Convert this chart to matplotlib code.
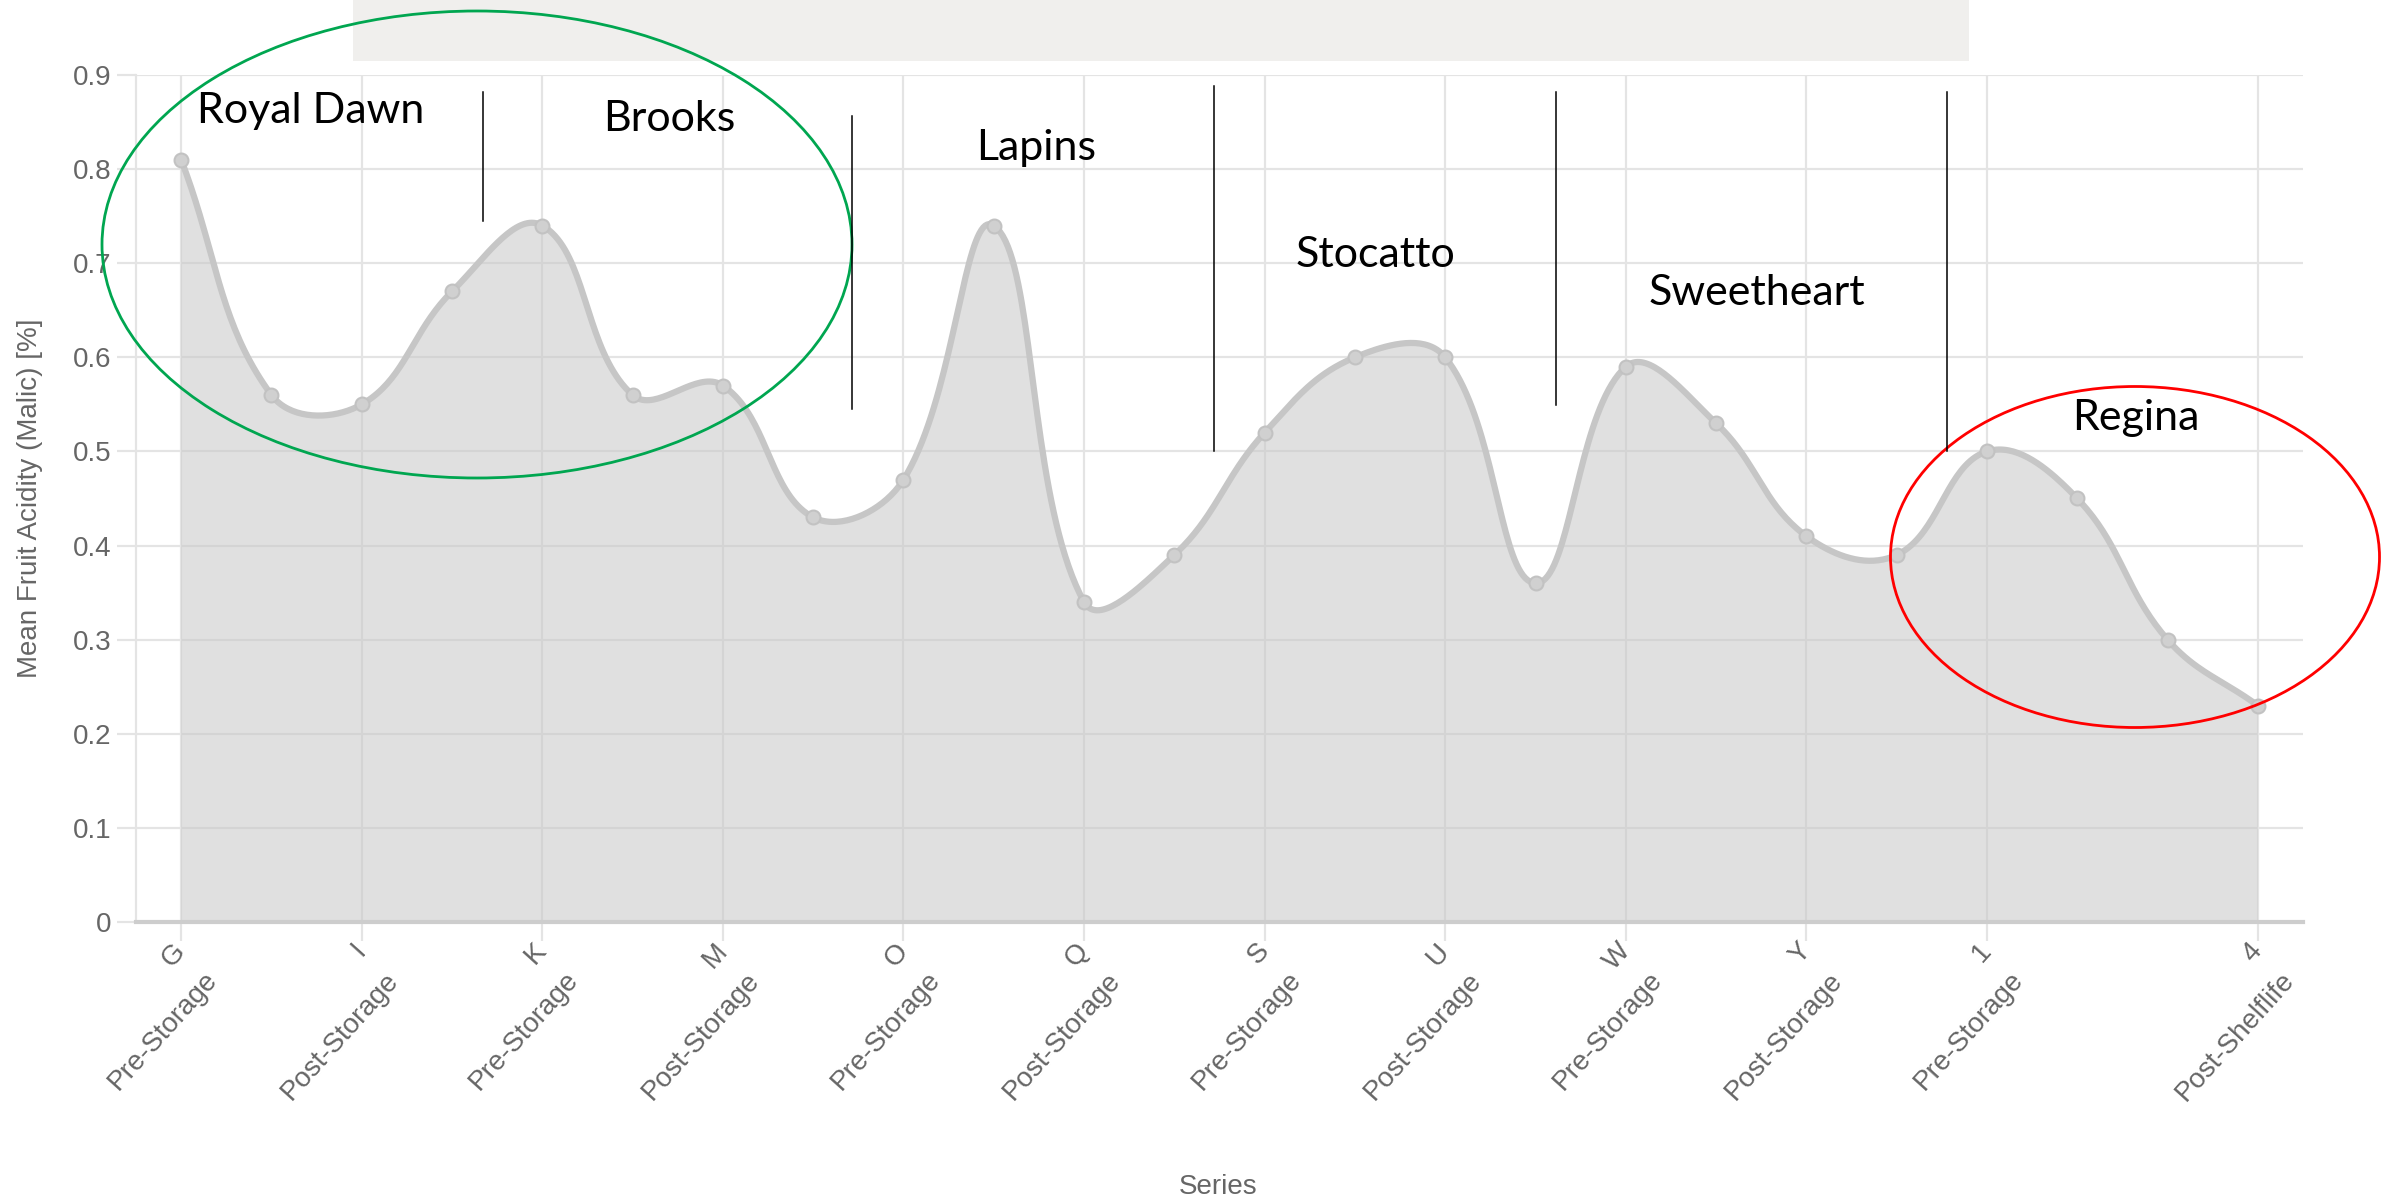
import matplotlib
matplotlib.use("Agg")
import matplotlib.pyplot as plt
import numpy as np
from matplotlib.patches import Ellipse, Rectangle
from matplotlib.lines import Line2D

# sample codes along the x axis and mean malic acid values
samples = ["G", "H", "I", "J", "K", "L", "M", "N", "O", "P", "Q", "R",
           "S", "T", "U", "V", "W", "X", "Y", "Z", "1", "2", "3", "4"]
acidity = [0.81, 0.56, 0.55, 0.67, 0.74, 0.56, 0.57, 0.43, 0.47, 0.74, 0.34, 0.39,
           0.52, 0.60, 0.60, 0.36, 0.59, 0.53, 0.41, 0.39, 0.50, 0.45, 0.30, 0.23]

# labelled ticks (chart skips every other one)
tick_idx = [0, 2, 4, 6, 8, 10, 12, 14, 16, 18, 20, 23]
tick_stage = ["Pre-Storage", "Post-Storage", "Pre-Storage", "Post-Storage",
              "Pre-Storage", "Post-Storage", "Pre-Storage", "Post-Storage",
              "Pre-Storage", "Post-Storage", "Pre-Storage", "Post-Shelflife"]
y_ticks = [0, 0.1, 0.2, 0.3, 0.4, 0.5, 0.6, 0.7, 0.8, 0.9]

cultivars = ["Royal Dawn", "Brooks", "Lapins", "Stocatto", "Sweetheart", "Regina"]

W, H = 2395, 1199
def fx(px):
    return px / W
def fy(py):
    return 1 - py / H

fig = plt.figure(figsize=(W / 100, H / 100), dpi=100)
ax = fig.add_axes([fx(136), fy(922), (2303 - 136) / W, (922 - 75) / H])
ax.set_xlim(-0.5, 23.5)
ax.set_ylim(0, 0.9)

grid_c = "#e4e4e4"
text_c = "#666666"
tick_font = "Liberation Sans"

# chart.js style bezier (tension 0.4) computed in pixel space
x = np.arange(len(samples))
pts = ax.transData.transform(np.column_stack([x, acidity]))
n = len(pts)
cp_prev = pts.copy()
cp_next = pts.copy()
for i in range(n):
    p0 = pts[max(i - 1, 0)]
    p1 = pts[i]
    p2 = pts[min(i + 1, n - 1)]
    d01 = np.hypot(*(p1 - p0))
    d12 = np.hypot(*(p2 - p1))
    s = d01 + d12
    s01 = d01 / s if s else 0
    s12 = d12 / s if s else 0
    cp_prev[i] = p1 - 0.4 * s01 * (p2 - p0)
    cp_next[i] = p1 + 0.4 * s12 * (p2 - p0)

u = np.linspace(0, 1, 40)[:, None]
segs = []
for i in range(n - 1):
    a, b, c, d = pts[i], cp_next[i], cp_prev[i + 1], pts[i + 1]
    segs.append((1 - u) ** 3 * a + 3 * (1 - u) ** 2 * u * b + 3 * (1 - u) * u ** 2 * c + u ** 3 * d)
curve = ax.transData.inverted().transform(np.vstack(segs))

poly = np.vstack([curve, [[x[-1], 0], [x[0], 0]]])
ax.fill(poly[:, 0], poly[:, 1], color="#c8c8c8", alpha=0.55, lw=0, zorder=2)
ax.plot(curve[:, 0], curve[:, 1], color="#c6c6c6", lw=4.5, zorder=3, solid_capstyle="round")
ax.plot(x, acidity, "o", ms=10, mfc="#d0d0d0", mec="#c2c2c2", mew=1.5, zorder=4)

# axes styling
ax.set_yticks(y_ticks)
ax.set_yticklabels(["0" if v == 0 else f"{v:.1f}" for v in y_ticks],
                   fontsize=20, color=text_c, family=tick_font)
ax.set_xticks(tick_idx)
ax.set_xticklabels([])
ax.grid(True, color=grid_c, lw=1.6)
ax.set_axisbelow(True)
ax.tick_params(axis="both", length=14, width=1.6, color=grid_c, pad=4)
for side in ["top", "right"]:
    ax.spines[side].set_visible(False)
ax.spines["left"].set_color(grid_c)
ax.spines["left"].set_linewidth(1.6)
ax.spines["bottom"].set_color("#cdcdcd")
ax.spines["bottom"].set_linewidth(3)

# two-line rotated x labels
ang = 48
ls = 31
for i, stage in zip(tick_idx, tick_stage):
    ax.annotate(samples[i], xy=(i, 0), xycoords=("data", "axes fraction"),
                xytext=(0, -18), textcoords="offset points", rotation=ang,
                rotation_mode="anchor", ha="right", va="center",
                fontsize=20, color=text_c, family=tick_font)
    ax.annotate(stage, xy=(i, 0), xycoords=("data", "axes fraction"),
                xytext=(ls * np.sin(np.radians(ang)), -18 - ls * np.cos(np.radians(ang))),
                textcoords="offset points", rotation=ang,
                rotation_mode="anchor", ha="right", va="center",
                fontsize=20, color=text_c, family=tick_font)

ax.set_ylabel("Mean Fruit Acidity (Malic) [%]", fontsize=20, color=text_c,
              family=tick_font, va="center")
ax.yaxis.set_label_coords((30 - 136) / (2303 - 136), 0.5)
ax.set_xlabel("Series", fontsize=20, color=text_c, family=tick_font, va="center")
ax.xaxis.set_label_coords((1218 - 136) / (2303 - 136), (922 - 1187) / (922 - 75))

# overlay annotations
fig.add_artist(Rectangle((fx(353), fy(61)), (1969 - 353) / W, 61 / H,
                         transform=fig.transFigure, color="#f0efed", lw=0, zorder=0))

label_xy = [(311, 111), (669, 119), (1036, 148), (1375, 255), (1757, 293), (2136, 418)]
for name, (px, py) in zip(cultivars, label_xy):
    fig.text(fx(px), fy(py), name, fontsize=31, family="Lato", color="black",
             ha="center", va="center")

divider_lines = [(483, 92, 221), (852, 116, 409), (1214, 86, 451),
                 (1556, 92, 405), (1947, 92, 451)]
for px, y0, y1 in divider_lines:
    fig.add_artist(Line2D([fx(px), fx(px)], [fy(y0), fy(y1)],
                          transform=fig.transFigure, color="black", lw=1.1))

fig.add_artist(Ellipse((fx(477), fy(244.5)), 750 / W, 467 / H, transform=fig.transFigure,
                       fill=False, ec="#00a650", lw=2))
fig.add_artist(Ellipse((fx(2135), fy(557)), 489 / W, 341 / H, transform=fig.transFigure,
                       fill=False, ec="#ff0000", lw=2))

fig.savefig("out.png", dpi=100)
